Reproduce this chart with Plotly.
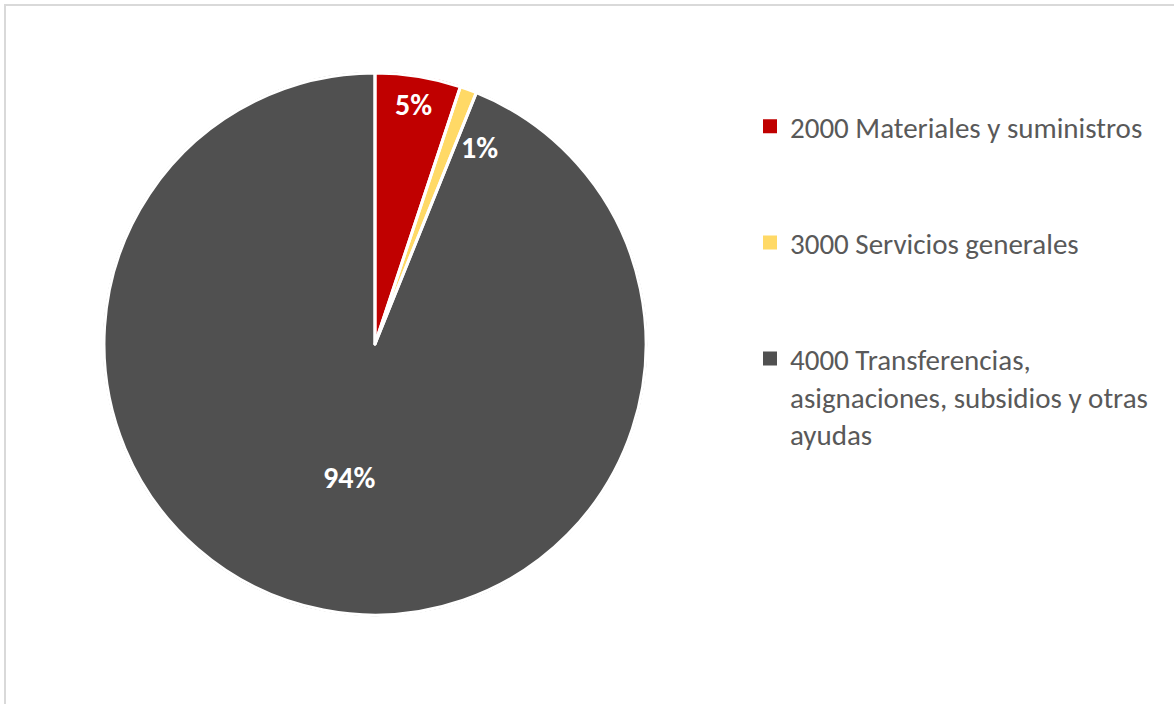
import math
import plotly.graph_objects as go

categories = [
    "2000 Materiales y suministros",
    "3000 Servicios generales",
    "4000 Transferencias,<br>asignaciones, subsidios y otras<br>ayudas",
]
values = [5.1, 1.0, 93.9]
colors = ["#C00000", "#FFD966", "#505050"]

W, H = 1174, 704
cx, cy, R = 375, 344, 271  # pie centre / radius in pixels (layout)
dom_x = [(cx - R) / W, (cx + R) / W]
dom_y = [(H - cy - R) / H, (H - cy + R) / H]

pad = "<br> <br> "
legend_labels = [categories[0] + pad, categories[1] + pad, categories[2]]

LABEL_FONT = dict(family="Carlito, Lato, sans-serif", size=30, color="white", weight="bold")

fig = go.Figure()
fig.add_trace(go.Pie(
    labels=legend_labels, values=values, sort=False, direction="clockwise", rotation=0,
    domain=dict(x=dom_x, y=dom_y),
    marker=dict(colors=colors, line=dict(color=colors, width=2)),
    texttemplate="%{percent:.0%}",
    textposition=["none", "none", "inside"],
    insidetextorientation="horizontal",
    textfont=LABEL_FONT,
    hoverinfo="label+percent",
))
# white separators between slices
fig.add_trace(go.Pie(
    labels=legend_labels, values=values, sort=False, direction="clockwise", rotation=0,
    domain=dict(x=dom_x, y=dom_y),
    marker=dict(colors=["rgba(0,0,0,0)"] * 3, line=dict(color="white", width=3)),
    textinfo="none", hoverinfo="skip", showlegend=False,
))

# labels for the two small slices, placed from the slice angles
total = sum(values)
angles = [360 * values[0] / total / 2,
          360 * (values[0] + values[1]) / total + 6]
radii = [243, 223]
for i, (ang, r_lab) in enumerate(zip(angles, radii)):
    ax = (cx + r_lab * math.sin(math.radians(ang))) / W
    ay = (H - cy + r_lab * math.cos(math.radians(ang))) / H
    fig.add_annotation(
        x=ax, y=ay, xref="paper", yref="paper", showarrow=False,
        xanchor="center", yanchor="middle",
        text=f"{round(100 * values[i] / total):d}%",
        font=LABEL_FONT,
    )

fig.add_shape(type="rect", xref="paper", yref="paper",
              x0=5 / W, x1=1.05, y0=-0.05, y1=(H - 5) / H,
              line=dict(color="#D9D9D9", width=2), fillcolor="rgba(0,0,0,0)")

fig.update_layout(
    width=W, height=H, margin=dict(l=0, r=0, t=0, b=0),
    paper_bgcolor="white", plot_bgcolor="white", showlegend=True,
    legend=dict(x=750 / W, y=(H - 101) / H, xanchor="left", yanchor="top", valign="top",
                font=dict(family="Carlito, Lato, sans-serif", size=29, color="#595959"),
                bgcolor="rgba(0,0,0,0)", traceorder="normal"),
)

fig.write_html("out.html", config={"displayModeBar": False},
               post_script="document.body.style.margin='0';")
